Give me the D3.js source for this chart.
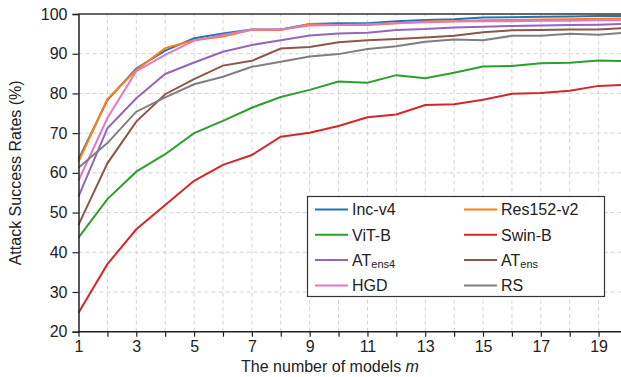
<!DOCTYPE html>
<html>
<head>
<meta charset="utf-8">
<script src="https://cdn.jsdelivr.net/npm/d3@7"></script>
<style>
  body { margin: 0; background: #fff; }
  svg { display: block; font-family: "Liberation Sans", Arial, sans-serif; }
</style>
</head>
<body>
<div id="chart"></div>
<script>
// number of models m
var models = d3.range(1, 21);

var incV4    = [63.4, 78.3, 86.3, 90.8, 93.9, 95.1, 96.1, 96.1, 97.5, 97.7, 97.7, 98.2, 98.5, 98.7, 99.1, 99.2, 99.3, 99.4, 99.5, 99.5];
var res152   = [62.8, 78.6, 85.9, 91.4, 93.4, 94.3, 96.0, 96.0, 97.4, 97.2, 97.2, 97.7, 98.1, 98.2, 98.4, 98.5, 98.6, 98.7, 98.8, 98.9];
var vitB     = [43.7, 53.4, 60.3, 64.7, 70.0, 73.1, 76.4, 79.1, 80.9, 83.0, 82.7, 84.6, 83.8, 85.2, 86.8, 86.9, 87.6, 87.7, 88.3, 88.1];
var swinB    = [24.8, 37.0, 45.8, 51.9, 58.0, 62.0, 64.5, 69.1, 70.1, 71.8, 74.0, 74.7, 77.1, 77.3, 78.4, 79.9, 80.1, 80.7, 81.9, 82.2];
var atEns4   = [54.0, 71.2, 78.8, 84.9, 87.8, 90.5, 92.2, 93.4, 94.6, 95.1, 95.3, 96.0, 96.2, 96.6, 96.8, 97.0, 97.1, 97.2, 97.3, 97.5];
var atEns    = [46.9, 62.4, 72.9, 79.8, 83.6, 87.0, 88.2, 91.3, 91.7, 92.9, 93.4, 93.7, 94.1, 94.5, 95.4, 95.9, 96.0, 96.1, 96.1, 96.5];
var hgd      = [58.0, 73.8, 85.6, 89.7, 93.3, 94.7, 96.1, 96.1, 97.1, 97.2, 97.4, 97.7, 97.9, 98.1, 98.2, 98.2, 98.3, 98.3, 98.4, 98.4];
var rs       = [61.3, 67.5, 75.4, 79.0, 82.3, 84.2, 86.7, 88.0, 89.3, 89.9, 91.2, 91.9, 93.0, 93.6, 93.4, 94.5, 94.5, 95.0, 94.8, 95.3];

var yTicks = [20, 30, 40, 50, 60, 70, 80, 90, 100];
var xLabels = [1, 3, 5, 7, 9, 11, 13, 15, 17, 19];

// draw order matters: later series lie on top
var series = [
  { name: 'Inc-v4',    sub: '',     values: incV4,  color: '#1f77b4' },
  { name: 'Res152-v2', sub: '',     values: res152, color: '#ff7f0e' },
  { name: 'ViT-B',     sub: '',     values: vitB,   color: '#2ca02c' },
  { name: 'Swin-B',    sub: '',     values: swinB,  color: '#d62728' },
  { name: 'AT',        sub: 'ens4', values: atEns4, color: '#9467bd' },
  { name: 'AT',        sub: 'ens',  values: atEns,  color: '#8c564b' },
  { name: 'HGD',       sub: '',     values: hgd,    color: '#e377c2' },
  { name: 'RS',        sub: '',     values: rs,     color: '#7f7f7f' }
];

var W = 621, H = 377;
var x = d3.scaleLinear().domain([1, 20]).range([78.5, 627.5]);
var y = d3.scaleLinear().domain([20, 100]).range([331.7, 14]);

var svg = d3.select('#chart').append('svg')
  .attr('width', W)
  .attr('height', H);

// grid
var grid = svg.append('g')
  .attr('stroke', '#d4d4d4')
  .attr('stroke-width', 1)
  .attr('stroke-dasharray', '4,3');

grid.selectAll('line.h')
  .data(yTicks.slice(1, -1))
  .join('line')
  .attr('class', 'h')
  .attr('x1', x(1)).attr('x2', W)
  .attr('y1', function (d) { return y(d); })
  .attr('y2', function (d) { return y(d); });

grid.selectAll('line.v')
  .data(models.slice(1))
  .join('line')
  .attr('class', 'v')
  .attr('y1', y(20)).attr('y2', y(100))
  .attr('x1', function (d) { return x(d); })
  .attr('x2', function (d) { return x(d); });

// lines
var line = d3.line()
  .x(function (d, i) { return x(models[i]); })
  .y(function (d) { return y(d); });

svg.append('g')
  .attr('fill', 'none')
  .selectAll('path')
  .data(series)
  .join('path')
  .attr('d', function (d) { return line(d.values); })
  .attr('stroke', function (d) { return d.color; })
  .attr('stroke-width', 2);

// top frame line
svg.append('line')
  .attr('x1', x(1)).attr('x2', W)
  .attr('y1', y(100)).attr('y2', y(100))
  .attr('stroke', '#333')
  .attr('stroke-width', 1.5);

// axes
var xAxis = d3.axisBottom(x)
  .tickValues(models.filter(function (m) { return m < 20; }))
  .tickSize(5)
  .tickPadding(4)
  .tickFormat(function (d) { return xLabels.indexOf(d) >= 0 ? d : ''; });

var gx = svg.append('g')
  .attr('transform', 'translate(0,' + y(20) + ')')
  .call(xAxis);
gx.select('.domain').attr('d', 'M' + x(1) + ',0H' + W);

var yAxis = d3.axisLeft(y)
  .tickValues(yTicks)
  .tickSize(6)
  .tickPadding(5);

var gy = svg.append('g')
  .attr('transform', 'translate(' + x(1) + ',0)')
  .call(yAxis);

[gx, gy].forEach(function (g) {
  g.select('.domain').attr('stroke', '#222').attr('stroke-width', 1.5);
  g.selectAll('.tick line').attr('stroke', '#222').attr('stroke-width', 1.2);
  g.selectAll('.tick text')
    .attr('font-size', '16px')
    .attr('fill', '#222')
    .attr('font-family', '"Liberation Sans", Arial, sans-serif');
});

// axis titles
svg.append('text')
  .attr('transform', 'translate(21,' + ((y(20) + y(100)) / 2) + ') rotate(-90)')
  .attr('text-anchor', 'middle')
  .attr('font-size', '16px')
  .attr('fill', '#222')
  .text('Attack Success Rates (%)');

var xt = svg.append('text')
  .attr('x', 330)
  .attr('y', 372)
  .attr('text-anchor', 'middle')
  .attr('font-size', '16px')
  .attr('fill', '#222');
xt.append('tspan').text('The number of models ');
xt.append('tspan').attr('font-style', 'italic').text('m');

// legend
var legend = svg.append('g');
legend.append('rect')
  .attr('x', 307.5).attr('y', 196.5)
  .attr('width', 297).attr('height', 100)
  .attr('fill', '#fff')
  .attr('stroke', '#333')
  .attr('stroke-width', 1.2);

var items = legend.selectAll('g.item')
  .data(series)
  .join('g')
  .attr('class', 'item')
  .attr('transform', function (d, i) {
    var col = i % 2, row = Math.floor(i / 2);
    return 'translate(' + (315 + col * 149) + ',' + (209.5 + row * 25.3) + ')';
  });

items.append('line')
  .attr('x1', 0).attr('x2', 33)
  .attr('stroke', function (d) { return d.color; })
  .attr('stroke-width', 2);

var lt = items.append('text')
  .attr('x', 37)
  .attr('dy', '0.36em')
  .attr('font-size', '16px')
  .attr('fill', '#222');
lt.append('tspan').text(function (d) { return d.name; });
lt.append('tspan')
  .attr('font-size', '11px')
  .attr('dy', '2')
  .text(function (d) { return d.sub; });
</script>
</body>
</html>
